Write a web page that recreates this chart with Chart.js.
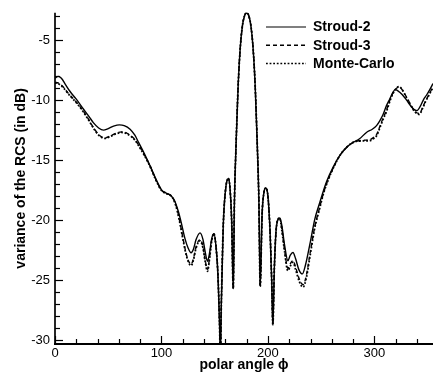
<!DOCTYPE html>
<html>
<head>
<meta charset="utf-8">
<script src="https://cdn.jsdelivr.net/npm/chart.js@4"></script>
<style>
html,body{margin:0;padding:0;background:#fff;}
#wrap{width:433px;height:379px;}
</style>
</head>
<body>
<div id="wrap"><canvas id="c" width="433" height="379"></canvas></div>
<script>
// ---- data ----
const seriesNames = ["Stroud-2", "Stroud-3", "Monte-Carlo"];

// main-lobe region where all three curves coincide
const peakAngles = [151,153,154.5,155.3,156.2,158,160,162.8,164.5,166,167.4,168.5,170,172,174,176,178,180,182,184,186,188,190,191.5,192.7,194.5,196,198,200,202,203.5,204.6,206,207.5,209.5];
const peakValues = [-22.0,-24.5,-28.5,-31.5,-27,-20.5,-17.6,-16.5,-17.5,-20.3,-25.7,-18.5,-13.8,-8.8,-5.6,-3.8,-2.95,-2.7,-2.95,-3.8,-5.6,-8.8,-13.8,-18.5,-25.5,-19.5,-17.8,-17.3,-18.0,-21.0,-25.0,-28.7,-24.0,-21.0,-19.9];

// Stroud-2
const stroud2LeftAngles = [0,3,6,10,14,20,27,32,36,41,45.5,50,55,60.5,65,70.5,75,78.5,84,89.5,95,100,104,108,110.5,113,116,119,122,125,127.8,130,132.5,136.2,139,141,143.2,145,147,149.2];
const stroud2LeftValues = [-8.15,-8.0,-8.15,-8.7,-9.24,-9.9,-10.76,-11.35,-11.85,-12.3,-12.48,-12.35,-12.15,-12.04,-12.1,-12.4,-12.9,-13.5,-14.45,-15.5,-16.6,-17.45,-17.7,-17.88,-18.1,-18.5,-19.3,-20.35,-21.5,-22.3,-22.7,-22.4,-21.6,-21.04,-21.6,-22.6,-23.4,-22.8,-21.6,-21.1];
const stroud2RightAngles = [211,213,215.5,218.7,221,223.5,226,229,232.3,235,240,244,248,255,261,267.5,274,280,286,292.5,298,302,305,308,311,314.3,317,319.5,322,326,330,334,337,340,343,346,349,352,355];
const stroud2RightValues = [-19.8,-20.4,-22.0,-23.36,-22.9,-22.68,-23.2,-24.1,-24.46,-23.8,-21.7,-19.9,-18.7,-16.78,-15.6,-14.59,-13.9,-13.5,-13.2,-12.67,-12.4,-12.1,-11.7,-11.2,-10.5,-9.9,-9.4,-9.1,-9.2,-9.5,-9.95,-10.45,-10.75,-10.85,-10.5,-9.95,-9.55,-9.1,-8.6];

// shared sample angles for Stroud-3 and Monte-Carlo outside the main lobe
const sideLeftAngles = [0,3,8,12,17.4,22,27,32,36,41,47,52,57,62.5,67,70.5,75,78.5,84,89.5,95,100,104,107,109.5,112,114.5,117,120,123,125.5,127.8,130,132.5,136.2,139,141,143.2,145,147,149.2];
const sideRightAngles = [211,213,215.5,218.7,221,223.5,226,229.5,233,236,240,244,248,252,255,261,267.5,274,280,284,290,295.5,299,302,305,308,311,314,317,320.5,323.4,326,330,334,338,342.3,345,348,351,355];

// Stroud-3
const stroud3LeftValues = [-8.5,-8.55,-8.9,-9.35,-9.88,-10.35,-10.95,-11.65,-12.25,-12.85,-13.12,-12.95,-12.75,-12.62,-12.7,-12.9,-13.25,-13.72,-14.55,-15.5,-16.65,-17.48,-17.73,-17.83,-17.98,-18.35,-19.0,-20.0,-21.4,-22.7,-23.4,-23.65,-23.2,-22.2,-21.6,-22.2,-23.3,-24.1,-23.2,-21.75,-21.1];
const stroud3RightValues = [-19.8,-20.7,-22.4,-24.0,-23.6,-23.35,-23.9,-24.9,-25.35,-24.6,-22.5,-20.5,-19.1,-17.75,-16.95,-15.7,-14.6,-13.9,-13.5,-13.38,-13.32,-13.28,-13.1,-12.85,-12.2,-11.5,-10.9,-10.1,-9.45,-9.0,-8.9,-9.1,-9.7,-10.35,-10.9,-11.1,-10.65,-10.05,-9.55,-8.85];

// Monte-Carlo
const mcLeftValues = [-8.55,-8.6,-8.97,-9.4,-9.93,-10.4,-11.0,-11.7,-12.3,-12.9,-13.17,-13.0,-12.8,-12.67,-12.75,-12.95,-13.3,-13.77,-14.6,-15.55,-16.7,-17.5,-17.75,-17.85,-18.0,-18.4,-19.1,-20.1,-21.5,-22.8,-23.5,-23.77,-23.3,-22.3,-21.7,-22.3,-23.4,-24.25,-23.3,-21.8,-21.1];
const mcRightValues = [-19.8,-20.8,-22.5,-24.2,-23.8,-23.5,-24.1,-25.1,-25.56,-24.8,-22.7,-20.6,-19.2,-17.8,-17.0,-15.7,-14.6,-13.9,-13.5,-13.4,-13.38,-13.36,-13.2,-12.95,-12.3,-11.6,-11.0,-10.2,-9.5,-9.0,-8.85,-9.1,-9.75,-10.4,-10.95,-11.17,-10.7,-10.1,-9.6,-8.9];

const xTickValues = [0, 100, 200, 300];
const yTickValues = [-30, -25, -20, -15, -10, -5];

// ---- build ----
function pts(xs, ys) { return xs.map((x, i) => ({x: x, y: ys[i]})); }
function series(la, lv, ra, rv) {
  return pts(la, lv).concat(pts(peakAngles, peakValues), pts(ra, rv));
}
const dStroud2 = series(stroud2LeftAngles, stroud2LeftValues, stroud2RightAngles, stroud2RightValues);
const dStroud3 = series(sideLeftAngles, stroud3LeftValues, sideRightAngles, stroud3RightValues);
const dMC = series(sideLeftAngles, mcLeftValues, sideRightAngles, mcRightValues);

const FONT = "'Liberation Sans', Arial, Helvetica, sans-serif";
const dashes = [[], [4, 3], [1.8, 1.8]];

const axisPlugin = {
  id: 'axisDecor',
  afterDraw(chart) {
    const ctx = chart.ctx, xs = chart.scales.x, ys = chart.scales.y, ca = chart.chartArea;
    ctx.save();
    ctx.strokeStyle = '#000';
    // axis lines
    ctx.lineWidth = 1.7;
    ctx.beginPath(); ctx.moveTo(ca.left, ca.top); ctx.lineTo(ca.left, ca.bottom + 1); ctx.stroke();
    ctx.lineWidth = 2;
    ctx.beginPath(); ctx.moveTo(ca.left - 1, ca.bottom); ctx.lineTo(ca.right, ca.bottom); ctx.stroke();
    // y ticks (inward)
    ctx.lineWidth = 1.2;
    for (let v = Math.ceil(ys.min); v <= ys.max; v += 1) {
      const y = Math.round(ys.getPixelForValue(v)) + 0.5;
      const len = (v % 5 === 0) ? 8 : 5;
      ctx.beginPath(); ctx.moveTo(ca.left, y); ctx.lineTo(ca.left + len, y); ctx.stroke();
    }
    // x ticks (inward)
    for (let v = 0; v <= xs.max; v += 20) {
      const x = Math.round(xs.getPixelForValue(v)) + 0.5;
      const len = (v % 100 === 0) ? 8 : 5;
      ctx.beginPath(); ctx.moveTo(x, ca.bottom); ctx.lineTo(x, ca.bottom - len); ctx.stroke();
    }
    // legend
    const lx0 = 266, lx1 = 306, tx = 313, rows = [27, 45.3, 63.6];
    ctx.font = 'bold 14px ' + FONT;
    ctx.fillStyle = '#000';
    ctx.textBaseline = 'middle';
    chart.data.datasets.forEach((ds, i) => {
      ctx.lineWidth = i === 0 ? 1.1 : 1.5;
      ctx.setLineDash(dashes[i]);
      ctx.beginPath(); ctx.moveTo(lx0, rows[i]); ctx.lineTo(lx1, rows[i]); ctx.stroke();
      ctx.setLineDash([]);
      ctx.fillText(ds.label, tx, rows[i] + 0.5);
    });
    ctx.restore();
  }
};

new Chart(document.getElementById('c'), {
  type: 'line',
  data: {
    datasets: [
      {label: seriesNames[0], data: dStroud2, borderColor: '#000', borderWidth: 1.4, borderDash: dashes[0], order: 0},
      {label: seriesNames[1], data: dStroud3, borderColor: '#000', borderWidth: 1.4, borderDash: dashes[1], order: 1},
      {label: seriesNames[2], data: dMC, borderColor: '#000', borderWidth: 1.8, borderDash: dashes[2], order: 2}
    ]
  },
  options: {
    responsive: false,
    animation: false,
    devicePixelRatio: 1,
    parsing: true,
    elements: {point: {radius: 0}, line: {cubicInterpolationMode: 'monotone', fill: false}},
    layout: {padding: {top: 8, right: 0, bottom: 0, left: 0}},
    plugins: {legend: {display: false}, tooltip: {enabled: false}},
    scales: {
      x: {
        type: 'linear', min: 0, max: 355,
        grid: {display: false, drawTicks: false},
        border: {display: false},
        afterBuildTicks(s) { s.ticks = xTickValues.map(v => ({value: v})); },
        afterFit(s) { s.height = 35; },
        ticks: {color: '#000', font: {family: FONT, size: 13}, padding: 2, maxRotation: 0, autoSkip: false},
        title: {display: true, text: 'polar angle ϕ', color: '#000', font: {family: FONT, size: 14, weight: 'bold'}, padding: {top: 0, bottom: 5}}
      },
      y: {
        type: 'linear', min: -30.3, max: -2.7,
        grid: {display: false, drawTicks: false},
        border: {display: false},
        afterBuildTicks(s) { s.ticks = yTickValues.map(v => ({value: v})); },
        afterFit(s) { s.width = 55; },
        ticks: {color: '#000', font: {family: FONT, size: 13}, padding: 5, autoSkip: false},
        title: {display: true, text: 'variance of the RCS (in dB)', color: '#000', font: {family: FONT, size: 14, weight: 'bold'}, padding: {top: 13, bottom: 0}}
      }
    }
  },
  plugins: [axisPlugin]
});
</script>
</body>
</html>
